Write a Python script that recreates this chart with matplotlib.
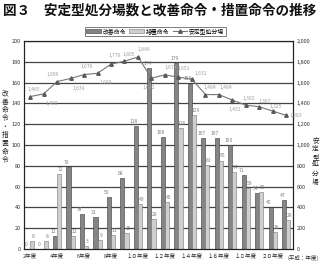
import numpy as np
import matplotlib
matplotlib.use("Agg")
import matplotlib.pyplot as plt
from matplotlib.ticker import FuncFormatter

plt.rcParams['font.family'] = ['Noto Sans CJK JP', 'DejaVu Sans']

years = list(range(2, 22))
kaizen = [0, 0, 12, 79, 34, 31, 50, 68, 118, 174, 108, 179, 159, 107, 107, 100, 71, 54, 40, 47]
sochi = [8, 8, 72, 12, 3, 9, 13, 15, 43, 29, 45, 116, 129, 81, 85, 74, 59, 55, 16, 28]
anteigata = [1465, 1490, 1609, 1639, 1676, 1689, 1776, 1805, 1846, 1642,
             1674, 1651, 1632, 1484, 1484, 1431, 1382, 1367, 1325, 1283]
tick_labels = ["2年度", "4年度", "6年度", "8年度", "１０年度", "１２年度",
               "１４年度", "１６年度", "１８年度", "２０年度"]

# where the line labels sit (points offset)
lab_off = [(3, 5), (6, -7), (-3, 5), (6, -7), (2, 6), (6, -7), (3, 6), (3, 5),
           (4, 5), (-2, -7), (4, 5), (4, 6), (6, 4), (3, 5), (5, 5), (2, -7),
           (2, 5), (4, 4), (2, 3), (7, 0)]

fig = plt.figure(figsize=(3.2, 2.64), dpi=100)
ax = fig.add_axes([0.075, 0.057, 0.841, 0.788])
ax2 = ax.twinx()

x = np.array(years)
w = 0.3
dark = '#858585'
light = '#cfcfcf'

for v in range(20, 201, 20):
    ax.axhline(v, color='#444444', lw=0.9, zorder=0)

ax.bar(x - w / 2, kaizen, w, color=dark, edgecolor='#3a3a3a', lw=0.4, zorder=2, label='改善命令')
ax.bar(x + w / 2, sochi, w, color=light, edgecolor='#777777', lw=0.4, zorder=2, label='措置命令')

for xi, v in zip(x, kaizen):
    ax.text(xi - w / 2 - 0.15, v + 2, str(v), fontsize=3.6, color='#808080', ha='center', va='bottom', zorder=3)
for xi, v in zip(x, sochi):
    ax.text(xi + w / 2 + 0.1, v + 2, str(v), fontsize=3.6, color='#808080', ha='center', va='bottom', zorder=3)

ln, = ax2.plot(x, anteigata, color='#777777', lw=0.8, marker='^', ms=2.5,
               mfc='#777777', mec='#555555', zorder=4, label='安定型処分場')
for xi, v, (dx, dy) in zip(x, anteigata, lab_off):
    ax2.annotate(f"{v:,}", (xi, v), xytext=(dx, dy), textcoords='offset points',
                 fontsize=3.6, color='#a0a0a0', ha='center', va='center')

ax.set_xlim(1.55, 21.5)
ax.set_ylim(0, 200)
ax2.set_ylim(0, 2000)
ax.set_yticks(range(0, 201, 20))
ax2.set_yticks(range(0, 2001, 200))
ax2.yaxis.set_major_formatter(FuncFormatter(lambda v, p: f"{int(v):,}"))
ax.set_xticks(years[::2])
ax.set_xticklabels(tick_labels)

for a in (ax, ax2):
    a.tick_params(labelsize=4, length=0, pad=2.5, colors='#333333')
    for s in a.spines.values():
        s.set_color('#222222')
        s.set_linewidth(0.8)
ax.set_zorder(1)
ax2.set_zorder(2)
ax2.patch.set_visible(False)

fig.text(0.016, 0.52, "\n".join("改善命令・措置命令"), fontsize=4.8, ha='center', va='center',
         linespacing=1.05, color='#222222')
fig.text(0.986, 0.39, "\n".join("安定型処分場"), fontsize=4.8, ha='center', va='center',
         linespacing=1.05, color='#222222')
fig.text(0.995, 0.01, "(平成：年度)", fontsize=4, ha='right', va='bottom', color='#333333')

fig.text(0.008, 0.985, "図３　安定型処分場数と改善命令・措置命令の推移", fontsize=9.8,
         fontweight='bold', ha='left', va='top', color='#111111')

h1, l1 = ax.get_legend_handles_labels()
leg = fig.legend(h1 + [ln], l1 + ['安定型処分場'], loc='center', bbox_to_anchor=(0.485, 0.882),
                 ncol=3, fontsize=4.2, frameon=True, fancybox=False, edgecolor='#444444',
                 handlelength=2.5, handleheight=0.6, columnspacing=0.6, handletextpad=0.3,
                 borderpad=0.25, borderaxespad=0)
leg.get_frame().set_linewidth(0.6)

fig.savefig("out.png", dpi=100)
